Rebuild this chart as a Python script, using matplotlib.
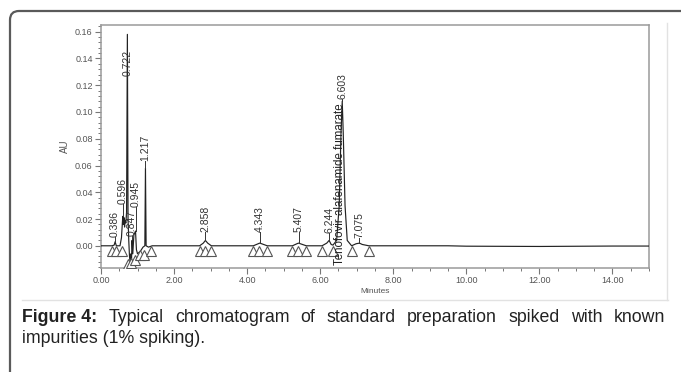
import matplotlib
matplotlib.use("Agg")
import matplotlib.pyplot as plt
from matplotlib.patches import FancyBboxPatch
from matplotlib.lines import Line2D
from matplotlib.ticker import MultipleLocator, FormatStrFormatter

plt.rcParams['font.family'] = ['Liberation Sans', 'DejaVu Sans']

# ---- data ----
time_min = [0.00, 0.30, 0.36, 0.386, 0.42, 0.52, 0.56, 0.596, 0.61, 0.63, 0.645, 0.66, 0.68, 0.70,
            0.722, 0.74, 0.76, 0.78, 0.80, 0.82, 0.835, 0.85, 0.87, 0.90, 0.945, 0.97, 1.00, 1.08,
            1.15, 1.20, 1.217, 1.235, 1.30, 1.40, 2.70, 2.80, 2.858, 2.92, 3.02, 4.17, 4.30, 4.343,
            4.40, 4.55, 5.24, 5.36, 5.407, 5.46, 5.62, 6.05, 6.18, 6.244, 6.30, 6.35, 6.45, 6.52,
            6.57, 6.603, 6.63, 6.68, 6.74, 6.86, 6.98, 7.075, 7.15, 7.33, 9.50, 10.00, 12.00, 14.00, 15.00]
absorbance = [0.0, 0.0, 0.0005, 0.003, 0.0, 0.0, 0.006, 0.022, 0.016, 0.021, 0.014, 0.019, 0.017, 0.025,
              0.158, 0.020, 0.004, -0.008, -0.013, -0.006, -0.011, 0.004, -0.006, 0.008, 0.011, -0.003, -0.006, -0.004,
              -0.001, 0.0, 0.058, 0.0, -0.001, 0.0, 0.0, 0.002, 0.004, 0.002, 0.0, 0.0, 0.0015, 0.002,
              0.0015, 0.0, 0.0, 0.0015, 0.002, 0.0015, 0.0, 0.0, 0.002, 0.004, 0.001, 0.0005, 0.004, 0.030,
              0.085, 0.108, 0.085, 0.030, 0.004, 0.0, 0.0015, 0.002, 0.001, 0.0, 0.0, -0.0003, -0.0005, -0.0002, -0.0002]

peak_labels = ["0.386", "0.596", "0.722", "0.847", "0.945", "1.217", "2.858", "4.343", "5.407", "6.244", "6.603", "7.075"]
peak_rt = [0.386, 0.596, 0.722, 0.847, 0.945, 1.217, 2.858, 4.343, 5.407, 6.244, 6.603, 7.075]
peak_top = [0.003, 0.022, 0.158, 0.005, 0.011, 0.058, 0.004, 0.002, 0.002, 0.004, 0.108, 0.002]
label_base = [0.0068, 0.031, 0.127, 0.007, 0.029, 0.063, 0.0106, 0.0106, 0.0106, 0.0098, 0.110, 0.006]

tri_x = [0.29, 0.42, 0.57, 0.73, 0.82, 0.93, 1.07, 1.18, 1.38,
         2.70, 2.86, 3.02, 4.17, 4.33, 4.55, 5.24, 5.40, 5.62,
         6.05, 6.36, 6.86, 7.33]
tri_y = [0.0, 0.0, 0.0, -0.010, -0.009, -0.007, -0.003, -0.003, 0.0,
         0.0, 0.0, 0.0, 0.0, 0.0, 0.0, 0.0, 0.0, 0.0,
         0.0, 0.0, 0.0, 0.0]

main_name = "Tenofovir alafenamide fumarate"
x_ticks = [0, 2, 4, 6, 8, 10, 12, 14]
x_ticklabels = ["0.00", "2.00", "4.00", "6.00", "8.00", "10.00", "12.00", "14.00"]

# ---- figure ----
W, H = 681, 372
fig = plt.figure(figsize=(W / 100, H / 100), dpi=100)
fig.patch.set_facecolor('white')

# outer rounded frame (only top and left visible)
frame = FancyBboxPatch((10, -40), 760, H - 11 + 40, boxstyle="round,pad=0,rounding_size=9",
                       transform=None, fill=False, edgecolor='#5a5a5a', linewidth=1.6, zorder=0)
fig.patches.append(frame)
# inner picture edges
fig.lines.append(Line2D([22, 668], [H - 300, H - 300], transform=None, color='#e2e2e2', lw=1.0))
fig.lines.append(Line2D([667, 667], [H - 23, H - 300], transform=None, color='#e2e2e2', lw=1.0))

ax = fig.add_axes([101 / W, 1 - 268 / H, (649 - 101) / W, (268 - 25) / H])
ax.set_xlim(0, 15)
ax.set_ylim(-0.0166, 0.165)

ax.plot(time_min, absorbance, color='#222222', lw=0.85, zorder=3)

# integration triangles (top vertex on the baseline)
ax.plot(tri_x, [v - 0.0037 for v in tri_y], linestyle='none', marker='^', markersize=7,
        markerfacecolor='white', markeredgecolor='#555555', markeredgewidth=0.8, zorder=4)

for lab, rt, top, base in zip(peak_labels, peak_rt, peak_top, label_base):
    if base > top:
        ax.plot([rt, rt], [top, base], color='#333333', lw=0.7, zorder=3)
    ax.text(rt, base, lab, rotation=90, ha='center', va='bottom', fontsize=7.5,
            color='#333333', zorder=5)

ax.text(6.53, -0.0145, main_name, rotation=90, ha='center', va='bottom', fontsize=8.3,
        color='#222222', zorder=5)

for s in ax.spines.values():
    s.set_color('#9a9a9a')
    s.set_linewidth(1.1)

ax.set_xticks(x_ticks)
ax.set_xticklabels(x_ticklabels)
ax.xaxis.set_minor_locator(MultipleLocator(0.5))
ax.yaxis.set_major_locator(MultipleLocator(0.02))
ax.yaxis.set_minor_locator(MultipleLocator(0.004))
ax.yaxis.set_major_formatter(FormatStrFormatter('%.2f'))
ax.tick_params(which='major', length=4.5, width=0.8, color='#777777', labelsize=6.5,
               labelcolor='#555555', pad=1.5)
ax.tick_params(which='minor', length=2.5, width=0.7, color='#777777')

ax.set_xlabel("Minutes", fontsize=6, color='#555555', labelpad=2)
ax.set_ylabel("AU", fontsize=7, color='#555555', labelpad=4)

# caption (justified first line)
FS = 12.8
base1 = 1 - 322 / H
renderer = fig.canvas.get_renderer()
head = fig.text(22 / W, base1, "Figure 4:", fontsize=FS, fontweight='bold', color='#222222',
                ha='left', va='baseline')
x_start = 22 + head.get_window_extent(renderer).width
cap1_words = ["Typical", "chromatogram", "of", "standard", "preparation", "spiked", "with", "known"]
widths = []
for w in cap1_words:
    t = fig.text(0, 0, w, fontsize=FS)
    widths.append(t.get_window_extent(renderer).width)
    t.remove()
gap = (665 - x_start - sum(widths)) / len(cap1_words)
x = x_start + gap
for w, wd in zip(cap1_words, widths):
    fig.text(x / W, base1, w, fontsize=FS, color='#222222', ha='left', va='baseline')
    x += wd + gap
fig.text(22 / W, 1 - 343 / H, "impurities (1% spiking).", fontsize=FS, color='#222222',
         ha='left', va='baseline')

fig.savefig("out.png", dpi=100)
